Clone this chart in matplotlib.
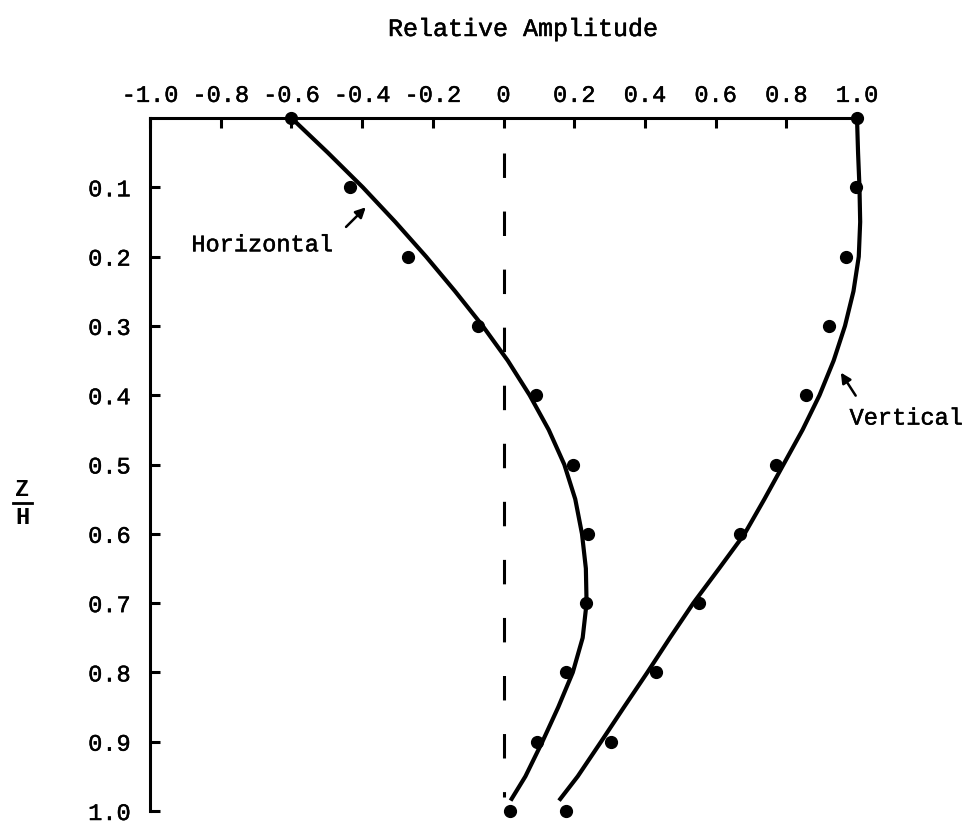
import matplotlib
matplotlib.use("Agg")
import matplotlib.pyplot as plt
import matplotlib.patheffects as pe

# ---- data ----
z_points = [0.0, 0.1, 0.2, 0.3, 0.4, 0.5, 0.6, 0.7, 0.8, 0.9, 1.0]
horizontal_points = [-0.60, -0.434, -0.27, -0.072, 0.092, 0.198, 0.238, 0.234, 0.177, 0.095, 0.017]
vertical_points = [1.0, 0.997, 0.969, 0.92, 0.856, 0.77, 0.67, 0.552, 0.43, 0.305, 0.177]

z_curve = [0.0, 0.05, 0.1, 0.15, 0.2, 0.25, 0.3, 0.35, 0.4, 0.45, 0.5,
           0.55, 0.6, 0.65, 0.7, 0.75, 0.8, 0.85, 0.9, 0.95, 0.985]
horizontal_curve = [-0.60, -0.497, -0.398, -0.306, -0.219, -0.137, -0.059, 0.012, 0.074, 0.128, 0.172,
                    0.203, 0.222, 0.233, 0.235, 0.224, 0.196, 0.155, 0.11, 0.062, 0.02]
vertical_curve = [1.0, 1.003, 1.007, 1.009, 1.005, 0.99, 0.966, 0.934, 0.894, 0.846, 0.792,
                  0.738, 0.682, 0.61, 0.537, 0.471, 0.407, 0.341, 0.276, 0.21, 0.157]

x_ticks = [-1.0, -0.8, -0.6, -0.4, -0.2, 0.0, 0.2, 0.4, 0.6, 0.8, 1.0]
x_tick_labels = ["-1.0", "-0.8", "-0.6", "-0.4", "-0.2", "0", "0.2", "0.4", "0.6", "0.8", "1.0"]
y_ticks = [0.1, 0.2, 0.3, 0.4, 0.5, 0.6, 0.7, 0.8, 0.9, 1.0]
y_tick_labels = ["0.1", "0.2", "0.3", "0.4", "0.5", "0.6", "0.7", "0.8", "0.9", "1.0"]

FONT = "Liberation Mono"
plt.rcParams["font.family"] = [FONT, "DejaVu Sans"]
thick = [pe.withStroke(linewidth=0.35, foreground="black")]

fig = plt.figure(figsize=(9.74, 8.27), dpi=100)
ax = fig.add_axes([150/974, 1 - 811/827, (857-150)/974, (811-118)/827])

ax.set_xlim(-1.0, 1.0)
ax.set_ylim(1.0, 0.0)

ax.plot(horizontal_curve, z_curve, color="black", lw=3.0, solid_capstyle="butt",
        solid_joinstyle="round", clip_on=False)
ax.plot(vertical_curve, z_curve, color="black", lw=3.0, solid_capstyle="butt",
        solid_joinstyle="round", clip_on=False)
ax.plot(horizontal_points, z_points, "o", color="black", ms=8.5, clip_on=False, zorder=5)
ax.plot(vertical_points, z_points, "o", color="black", ms=8.5, clip_on=False, zorder=5)

ax.axvline(0.0, ymin=0.95, ymax=0.02, color="black", lw=2.2, ls=(0, (8, 11)))

for s in ["right", "bottom"]:
    ax.spines[s].set_visible(False)
for s in ["left", "top"]:
    ax.spines[s].set_linewidth(2.2)

ax.xaxis.tick_top()
ax.set_xticks(x_ticks)
ax.set_xticklabels(x_tick_labels, fontsize=17, family=FONT)
ax.set_yticks(y_ticks)
ax.set_yticklabels(y_tick_labels, fontsize=17, family=FONT)
ax.tick_params(axis="both", direction="in", length=7.5, width=2.2)
ax.tick_params(axis="x", pad=8)
ax.tick_params(axis="y", pad=14)
for lbl in ax.get_xticklabels() + ax.get_yticklabels():
    lbl.set_path_effects(thick)

fig.text(523/974, 1 - 29/827, "Relative Amplitude", ha="center", va="center",
         fontsize=18, family=FONT, path_effects=thick)

ax.text(-0.883, 0.183, "Horizontal", ha="left", va="center", fontsize=17, family=FONT,
        path_effects=thick)
ax.annotate("", xy=(-0.384, 0.126), xytext=(-0.451, 0.160),
            arrowprops=dict(arrowstyle="-|>", color="black", lw=1.8, mutation_scale=15))
ax.text(0.979, 0.433, "Vertical", ha="left", va="center", fontsize=17, family=FONT,
        clip_on=False, path_effects=thick)
ax.annotate("", xy=(0.95, 0.364), xytext=(1.0005, 0.404),
            arrowprops=dict(arrowstyle="-|>", color="black", lw=1.8, mutation_scale=15),
            annotation_clip=False)

# Z/H fraction label
fig.text(22/974, 1 - 490/827, "Z", ha="center", va="center", fontsize=17, family=FONT,
         fontweight="bold")
fig.text(22/974, 1 - 517/827, "H", ha="center", va="center", fontsize=17, family=FONT,
         fontweight="bold")
fig.add_artist(plt.Line2D([13/974, 32/974], [1 - 503/827, 1 - 503/827], color="black", lw=2))

fig.savefig("out.png", dpi=100)
